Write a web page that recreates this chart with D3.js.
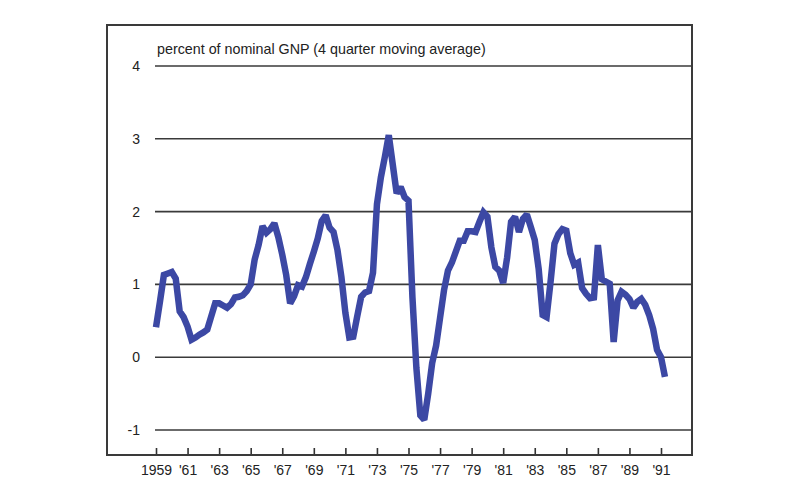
<!DOCTYPE html>
<html>
<head>
<meta charset="utf-8">
<script src="https://cdn.jsdelivr.net/npm/d3@7"></script>
<style>
  html, body { margin: 0; padding: 0; background: #ffffff; }
  svg { display: block; }
</style>
</head>
<body>
<div id="chart"></div>
<script>
// ---- Data (quarterly, starting 1959 Q1) ----
const startYear = 1959;
const values = [
  0.41, 0.76, 1.13, 1.15, 1.17, 1.08, 0.63, 0.55,   // 1959-60
  0.42, 0.24, 0.27, 0.31, 0.34, 0.38, 0.56, 0.74,   // 1961-62
  0.74, 0.71, 0.68, 0.73, 0.82, 0.83, 0.85, 0.91,   // 1963-64
  1.00, 1.34, 1.54, 1.80, 1.71, 1.76, 1.84, 1.65,   // 1965-66
  1.41, 1.13, 0.74, 0.84, 0.99, 0.97, 1.10, 1.28,   // 1967-68
  1.45, 1.63, 1.87, 1.95, 1.78, 1.72, 1.47, 1.10,   // 1969-70
  0.61, 0.27, 0.28, 0.56, 0.83, 0.89, 0.91, 1.16,   // 1971-72
  2.10, 2.47, 2.75, 3.05, 2.65, 2.25, 2.34, 2.20,   // 1973-74
  2.15, 0.82, -0.15, -0.80, -0.86, -0.50, -0.08, 0.16, // 1975-76
  0.54, 0.92, 1.19, 1.30, 1.45, 1.60, 1.60, 1.73,   // 1977-78
  1.73, 1.72, 1.86, 1.99, 1.93, 1.51, 1.24, 1.19,   // 1979-80
  1.02, 1.37, 1.86, 1.93, 1.72, 1.90, 1.96, 1.79,   // 1981-82
  1.61, 1.21, 0.58, 0.55, 1.03, 1.56, 1.69, 1.76,   // 1983-84
  1.74, 1.43, 1.27, 1.30, 0.95, 0.87, 0.81, 0.82,   // 1985-86
  1.54, 1.07, 1.04, 1.01, 0.21, 0.78, 0.90, 0.86,   // 1987-88
  0.80, 0.68, 0.76, 0.80, 0.72, 0.58, 0.39, 0.10,   // 1989-90
  0.00, -0.27                                        // 1991
];
const yTicks = [-1, 0, 1, 2, 3, 4];
const xTickYears = [1959, 1961, 1963, 1965, 1967, 1969, 1971, 1973, 1975,
                    1977, 1979, 1981, 1983, 1985, 1987, 1989, 1991];
const xTickLabels = ["1959", "'61", "'63", "'65", "'67", "'69", "'71", "'73", "'75",
                     "'77", "'79", "'81", "'83", "'85", "'87", "'89", "'91"];
const titleText = "percent of nominal GNP (4 quarter moving average)";

// ---- Layout ----
const W = 800, H = 500;
const frame = { left: 107, top: 25, right: 692, bottom: 455 };
const gridLeft = 155;

const svg = d3.select("#chart").append("svg")
  .attr("width", W).attr("height", H);

const font = "'Liberation Sans', Arial, Helvetica, sans-serif";

const x = d3.scaleLinear().domain([1959, 1991]).range([156, 661]);
const y = d3.scaleLinear().domain([-1, 4]).range([430, 66]);

// Gridlines
svg.append("g").selectAll("line").data(yTicks).join("line")
  .attr("x1", gridLeft).attr("x2", frame.right)
  .attr("y1", d => y(d)).attr("y2", d => y(d))
  .attr("stroke", "#3a3a3a").attr("stroke-width", 1.6);

// Y labels
svg.append("g").selectAll("text").data(yTicks).join("text")
  .attr("x", 140).attr("y", d => y(d))
  .attr("dy", "0.35em")
  .attr("text-anchor", "end")
  .attr("font-family", font).attr("font-size", 14)
  .attr("fill", "#222")
  .text(d => d);

// Title
svg.append("text")
  .attr("x", 157).attr("y", 54)
  .attr("font-family", font).attr("font-size", 14.3)
  .attr("fill", "#222")
  .text(titleText);

// X axis ticks using d3 axis
const xAxis = d3.axisBottom(x)
  .tickValues(xTickYears)
  .tickSize(0)
  .tickFormat((d, i) => xTickLabels[i]);

const gx = svg.append("g").attr("transform", `translate(0,${frame.bottom})`).call(xAxis);
gx.select(".domain").remove();
gx.selectAll(".tick text")
  .attr("y", 20)
  .attr("dy", 0)
  .attr("font-family", font).attr("font-size", 14)
  .attr("fill", "#222");
gx.selectAll(".tick").append("line")
  .attr("y1", 0).attr("y2", -7)
  .attr("stroke", "#333").attr("stroke-width", 1.6);

// Data line
const line = d3.line()
  .x((d, i) => x(startYear + i / 4))
  .y(d => y(d))
  .curve(d3.curveLinear);

svg.append("path")
  .datum(values)
  .attr("d", line)
  .attr("fill", "none")
  .attr("stroke", "#3c48a4")
  .attr("stroke-width", 6.5)
  .attr("stroke-linejoin", "miter")
  .attr("stroke-miterlimit", 2)
  .attr("stroke-linecap", "butt");

// Frame
svg.append("rect")
  .attr("x", frame.left).attr("y", frame.top)
  .attr("width", frame.right - frame.left)
  .attr("height", frame.bottom - frame.top)
  .attr("fill", "none")
  .attr("stroke", "#3a3a3a").attr("stroke-width", 2);
</script>
</body>
</html>
